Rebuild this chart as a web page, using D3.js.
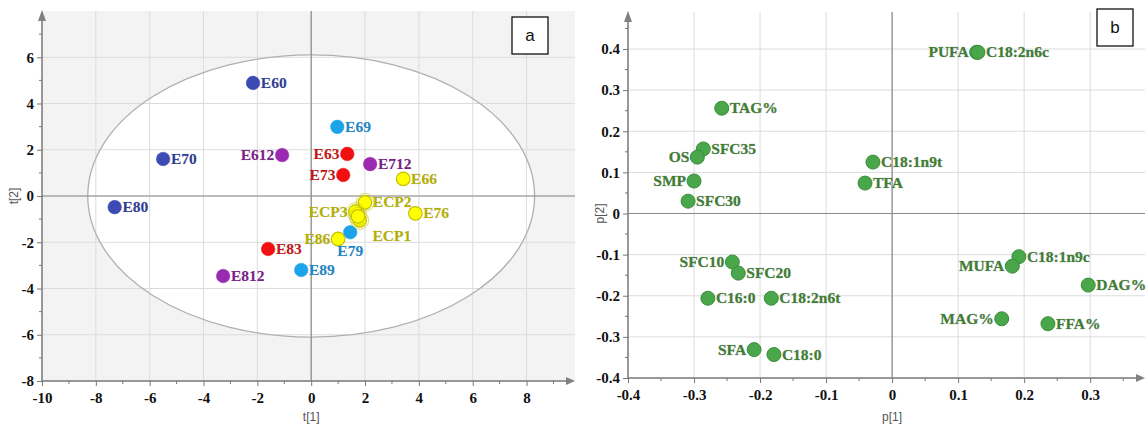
<!DOCTYPE html>
<html>
<head>
<meta charset="utf-8">
<script src="https://cdn.jsdelivr.net/npm/d3@7"></script>
<style>
  html, body { margin: 0; padding: 0; background: #fff; }
  svg { display: block; }
</style>
</head>
<body>
<svg id="chart" width="1146" height="428"></svg>
<script>
// ---- Score plot (t[1] vs t[2]) ----
const scoreNames = ["E60", "E70", "E80", "E612", "E712", "E812", "E63", "E73", "E83",
                    "E69", "E79", "E89", "E66", "E76", "E86", "ECP1", "ECP2", "ECP3", ""];
const scoreT1 = [-2.16, -5.50, -7.30, -1.08, 2.19, -3.27, 1.34, 1.19, -1.60,
                 0.97, 1.45, -0.37, 3.42, 3.87, 1.00, 1.80, 2.00, 1.64, 1.74];
const scoreT2 = [4.89, 1.60, -0.48, 1.77, 1.38, -3.46, 1.82, 0.91, -2.29,
                 2.99, -1.57, -3.20, 0.74, -0.75, -1.86, -1.05, -0.28, -0.68, -0.88];
const scoreGroup = ["blue", "blue", "blue", "purple", "purple", "purple", "red", "red", "red",
                    "cyan", "cyan", "cyan", "yellow", "yellow", "yellow", "yellow", "yellow", "yellow", "yellow"];
const scoreLabelPos = ["right", "right", "right", "left", "right", "right", "left", "left", "right",
                       "right", "below", "right", "right", "right", "left", "belowright", "right", "left", "none"];
const scoreXTicks = [-10, -8, -6, -4, -2, 0, 2, 4, 6, 8];
const scoreYTicks = [-8, -6, -4, -2, 0, 2, 4, 6];
const ellipseT1 = 8.3, ellipseT2 = 6.1;   // Hotelling T2 ellipse semi-axes

// ---- Loading plot (p[1] vs p[2]) ----
const loadNames = ["PUFA", "C18:2n6c", "C18:1n9t", "TFA", "TAG%", "SFC35", "OS", "SMP", "SFC30",
                   "SFC10", "SFC20", "C16:0", "C18:2n6t", "SFA", "C18:0",
                   "C18:1n9c", "MUFA", "DAG%", "MAG%", "FFA%"];
const loadP1 = [0.128, 0.130, -0.029, -0.041, -0.258, -0.286, -0.295, -0.300, -0.309,
                -0.242, -0.233, -0.279, -0.183, -0.209, -0.179,
                0.192, 0.182, 0.297, 0.166, 0.236];
const loadP2 = [0.392, 0.392, 0.125, 0.074, 0.256, 0.157, 0.137, 0.079, 0.030,
                -0.118, -0.145, -0.206, -0.206, -0.331, -0.343,
                -0.105, -0.128, -0.174, -0.256, -0.268];
const loadLabelPos = ["left", "right", "right", "right", "right", "right", "left", "left", "right",
                      "left", "right", "right", "right", "left", "right",
                      "right", "left", "right", "left", "right"];
const loadXTicks = [-0.4, -0.3, -0.2, -0.1, 0, 0.1, 0.2, 0.3];
const loadYTicks = [-0.4, -0.3, -0.2, -0.1, 0, 0.1, 0.2, 0.3, 0.4];

const groupFill = { blue: "#3b4bb3", purple: "#9a2bb0", red: "#f01010", cyan: "#1ca4ea", yellow: "#ffff00" };
const groupStroke = { blue: "#3b4bb3", purple: "#9a2bb0", red: "#f01010", cyan: "#1ca4ea", yellow: "#c4c000" };
const groupText = { blue: "#2f3e95", purple: "#7a2187", red: "#c21616", cyan: "#1f86c6", yellow: "#b3b000" };

const SERIF = '"Liberation Serif", "Times New Roman", serif';
const SANS = '"Liberation Sans", Arial, sans-serif';

const svg = d3.select("#chart");

function drawPanel(cfg) {
  const g = svg.append("g");
  const x = d3.scaleLinear().domain(cfg.xDomain).range(cfg.xRange);
  const y = d3.scaleLinear().domain(cfg.yDomain).range(cfg.yRange);
  const [x0, x1] = cfg.xRange, [y0, y1] = cfg.yRange;  // y0 bottom, y1 top

  // background
  g.append("rect").attr("x", x0).attr("y", y1).attr("width", x1 - x0).attr("height", y0 - y1)
    .attr("fill", cfg.bg);
  if (cfg.ellipse) {
    g.append("ellipse").attr("cx", x(0)).attr("cy", y(0))
      .attr("rx", x(cfg.ellipse[0]) - x(0)).attr("ry", y(0) - y(cfg.ellipse[1]))
      .attr("fill", "#fff");
  }
  // grid
  g.append("g").selectAll("line").data(cfg.xTicks.filter(v => v !== cfg.xTicks[0])).join("line")
    .attr("x1", d => x(d)).attr("x2", d => x(d)).attr("y1", y1).attr("y2", y0)
    .attr("stroke", "#dcdcdc").attr("stroke-width", 1);
  g.append("g").selectAll("line").data(cfg.yTicks.filter(v => v !== cfg.yTicks[0])).join("line")
    .attr("x1", x0).attr("x2", x1).attr("y1", d => y(d)).attr("y2", d => y(d))
    .attr("stroke", "#dcdcdc").attr("stroke-width", 1);
  if (cfg.ellipse) {
    g.append("ellipse").attr("cx", x(0)).attr("cy", y(0))
      .attr("rx", x(cfg.ellipse[0]) - x(0)).attr("ry", y(0) - y(cfg.ellipse[1]))
      .attr("fill", "none").attr("stroke", "#b0b0b0").attr("stroke-width", 1.3);
  }
  // zero lines
  g.append("line").attr("x1", x(0)).attr("x2", x(0)).attr("y1", y1).attr("y2", y0)
    .attr("stroke", "#8a8a8a").attr("stroke-width", 1.2);
  g.append("line").attr("x1", x0).attr("x2", x1).attr("y1", y(0)).attr("y2", y(0))
    .attr("stroke", "#8a8a8a").attr("stroke-width", 1.2);

  // axes with minor ticks
  const xAxis = d3.axisBottom(x).tickValues(cfg.xTicks).tickSize(5).tickPadding(6).tickFormat(cfg.fmt);
  const yAxis = d3.axisLeft(y).tickValues(cfg.yTicks).tickSize(5).tickPadding(3).tickFormat(cfg.fmt);
  const gx = g.append("g").attr("transform", `translate(0,${y0})`).call(xAxis);
  const gy = g.append("g").attr("transform", `translate(${x0},0)`).call(yAxis);
  [gx, gy].forEach(a => {
    a.attr("font-family", SERIF).attr("font-size", 15);
    a.select(".domain").remove();
    a.selectAll(".tick line").attr("stroke", "#777");
    a.selectAll(".tick text")
      .style("font-family", SERIF).style("font-weight", "bold").style("font-size", "15px")
      .attr("fill", "#111");
  });
  g.append("g").selectAll("line").data(cfg.xMinor).join("line")
    .attr("x1", d => x(d)).attr("x2", d => x(d)).attr("y1", y0).attr("y2", y0 + 3).attr("stroke", "#777");
  g.append("g").selectAll("line").data(cfg.yMinor).join("line")
    .attr("x1", x0 - 3).attr("x2", x0).attr("y1", d => y(d)).attr("y2", d => y(d)).attr("stroke", "#777");
  // axis lines with arrow heads
  g.append("line").attr("x1", x0).attr("x2", x1 - 6).attr("y1", y0).attr("y2", y0).attr("stroke", "#777").attr("stroke-width", 1.5);
  g.append("line").attr("x1", x0).attr("x2", x0).attr("y1", y0).attr("y2", y1 + 6).attr("stroke", "#777").attr("stroke-width", 1.5);
  g.append("path").attr("d", `M${x1 - 9},${y0 - 4}L${x1},${y0}L${x1 - 9},${y0 + 4}Z`).attr("fill", "#808080");
  g.append("path").attr("d", `M${x0 - 4},${y1 + 10}L${x0},${y1 - 1}L${x0 + 4},${y1 + 10}Z`).attr("fill", "#808080");

  // axis titles
  g.append("text").attr("x", x(0)).attr("y", 421).attr("text-anchor", "middle")
    .style("font-family", SANS).style("font-size", "12px").attr("fill", "#555").text(cfg.xTitle);
  g.append("text").attr("transform", `translate(${x0 - 24},${y(0)}) rotate(-90)`)
    .attr("text-anchor", "middle")
    .style("font-family", SANS).style("font-size", "12px").attr("fill", "#555").text(cfg.yTitle);

  // points
  const pts = g.append("g");
  cfg.points.forEach(p => {
    pts.append("circle").attr("cx", x(p.x)).attr("cy", y(p.y)).attr("r", p.r)
      .attr("fill", p.fill).attr("stroke", p.stroke).attr("stroke-width", p.sw);
    if (p.ring) {
      pts.append("circle").attr("cx", x(p.x)).attr("cy", y(p.y)).attr("r", p.r + 2.2)
        .attr("fill", "none").attr("stroke", p.stroke).attr("stroke-opacity", 0.6).attr("stroke-width", 1);
    }
  });
  const lbl = g.append("g");
  cfg.points.forEach(p => {
    if (p.pos === "none" || !p.name) return;
    let tx = x(p.x), ty = y(p.y) + 5, anchor = "start";
    if (p.pos === "right") { tx += p.r + 1; }
    else if (p.pos === "left") { tx -= p.r + 1; anchor = "end"; }
    else if (p.pos === "below") { ty += 19; anchor = "middle"; }
    else if (p.pos === "belowright") { tx += p.r + 6; ty += 16; }
    lbl.append("text").attr("x", tx).attr("y", ty)
      .attr("text-anchor", anchor).attr("fill", p.text)
      .style("font-family", SERIF).style("font-weight", "bold").style("font-size", "15.5px")
      .style("paint-order", "stroke").attr("stroke", p.halo).attr("stroke-width", 0.6)
      .text(p.name);
  });

  // panel tag box
  g.append("rect").attr("x", cfg.tag.x).attr("y", cfg.tag.y).attr("width", 36).attr("height", 37)
    .attr("fill", "#fff").attr("stroke", "#111").attr("stroke-width", 1.3);
  g.append("text").attr("x", cfg.tag.x + 18).attr("y", cfg.tag.y + 24).attr("text-anchor", "middle")
    .style("font-family", SANS).style("font-size", "17px").attr("fill", "#111")
    .text(cfg.tag.text);
}

const fmtInt = d => d3.format("d")(d).replace("−", "-");
const fmtDec = d => (d === 0 ? "0" : d3.format(".1f")(d).replace("−", "-"));

drawPanel({
  xDomain: [-10, 9.8], xRange: [42, 575],
  yDomain: [-8, 8], yRange: [381, 11],
  bg: "#f3f3f3", ellipse: [ellipseT1, ellipseT2],
  xTicks: scoreXTicks, yTicks: scoreYTicks,
  xMinor: d3.range(-9, 10, 2), yMinor: d3.range(-7, 8, 2),
  fmt: fmtInt, xTitle: "t[1]", yTitle: "t[2]",
  tag: { x: 512, y: 17, text: "a" },
  points: scoreNames.map((n, i) => ({
    name: n, x: scoreT1[i], y: scoreT2[i], r: 6.8,
    fill: groupFill[scoreGroup[i]], stroke: groupStroke[scoreGroup[i]],
    sw: scoreGroup[i] === "yellow" ? 1.2 : 0.5, ring: n.startsWith("ECP") || (n === "" && scoreGroup[i] === "yellow"),
    text: groupText[scoreGroup[i]], halo: "rgba(0,0,0,0.15)", pos: scoreLabelPos[i]
  }))
});

drawPanel({
  xDomain: [-0.4, 0.383], xRange: [628, 1145],
  yDomain: [-0.4, 0.49], yRange: [378, 12],
  bg: "#fff", ellipse: null,
  xTicks: loadXTicks, yTicks: loadYTicks,
  xMinor: d3.range(-0.35, 0.38, 0.1), yMinor: d3.range(-0.35, 0.46, 0.1),
  fmt: fmtDec, xTitle: "p[1]", yTitle: "p[2]",
  tag: { x: 1097, y: 9, text: "b" },
  points: loadNames.map((n, i) => ({
    name: n, x: loadP1[i], y: loadP2[i], r: 7,
    fill: "#4aa64a", stroke: "#3a8e3a", sw: 1, ring: false,
    text: "#3f7d30", halo: "rgba(20,40,60,0.35)", pos: loadLabelPos[i]
  }))
});
</script>
</body>
</html>
